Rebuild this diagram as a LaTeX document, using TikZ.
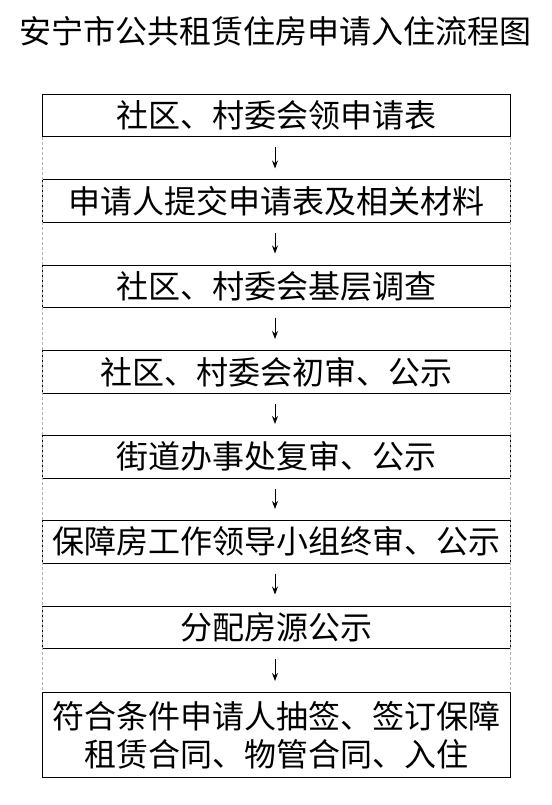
\documentclass[tikz,border=0pt]{standalone}
\usepackage{fontspec}
\newfontfamily\cjk{Noto Sans CJK SC}
\usetikzlibrary{arrows.meta}
\begin{document}
\begin{tikzpicture}[x=1pt,y=-1pt,
  stepbox/.style={draw=black,line width=1pt,fill=white,minimum width=467.5pt,
    inner sep=0pt,anchor=north,font=\cjk\fontsize{32}{38}\selectfont,align=center},
  flowarrow/.style={-{Stealth[length=8pt,width=6pt]},line width=0.9pt},
  guide/.style={draw=black!30,dashed,line width=0.6pt,dash pattern=on 3pt off 2pt}]
\useasboundingbox (0,0) rectangle (551,805);
\node[font=\cjk\fontsize{32}{36}\selectfont] (title) at (275,31) {安宁市公共租赁住房申请入住流程图};
\node[stepbox,minimum height=41.5pt] (b1) at (276.25,94.5) {社区、村委会领申请表};
\node[stepbox,minimum height=42pt] (b2) at (276.25,179.5) {申请人提交申请表及相关材料};
\node[stepbox,minimum height=42pt] (b3) at (276.25,264.5) {社区、村委会基层调查};
\node[stepbox,minimum height=42.5pt] (b4) at (276.25,350) {社区、村委会初审、公示};
\node[stepbox,minimum height=42.5pt] (b5) at (276.25,435) {街道办事处复审、公示};
\node[stepbox,minimum height=42.5pt] (b6) at (276.25,520) {保障房工作领导小组终审、公示};
\node[stepbox,minimum height=42.5pt] (b7) at (276.25,605.5) {分配房源公示};
\node[stepbox,minimum height=85pt] (b8) at (276.25,692) {符合条件申请人抽签、签订保障\\租赁合同、物管合同、入住};
\draw[guide] (b1.south west) -- (b8.north west);
\draw[guide] (b1.south east) -- (b8.north east);
\foreach \a/\b in {b1/b2,b2/b3,b3/b4,b4/b5,b5/b6,b6/b7,b7/b8}{
  \draw[flowarrow] ([xshift=-1.25pt,yshift=-10pt]\a.south) -- ([xshift=-1.25pt,yshift=11pt]\b.north);
}
\end{tikzpicture}
\end{document}
